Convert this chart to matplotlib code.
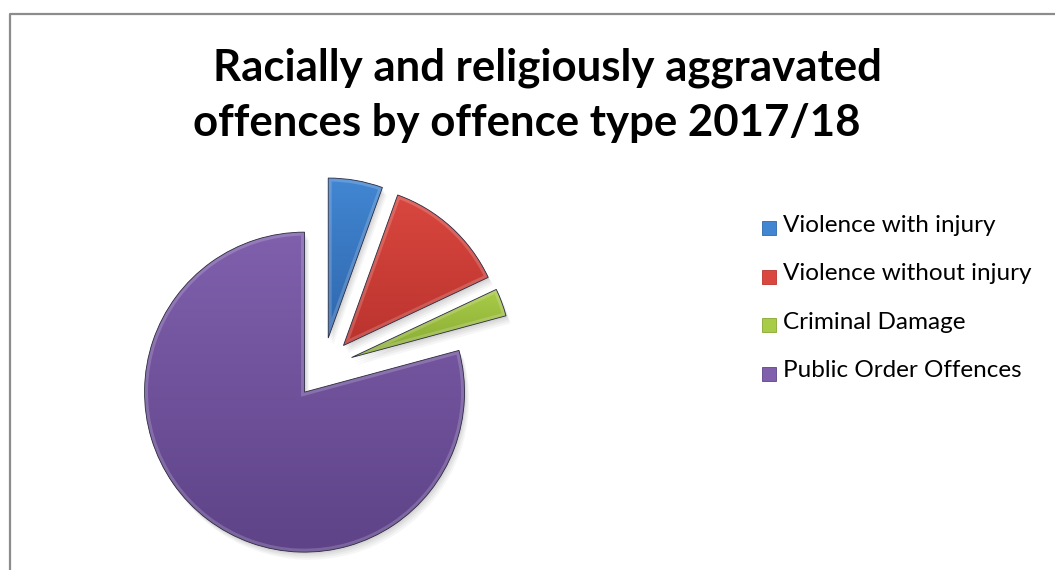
import matplotlib

matplotlib.use("Agg")
import matplotlib.pyplot as plt
import numpy as np
from matplotlib.colors import LinearSegmentedColormap
from matplotlib.legend_handler import HandlerPatch
from matplotlib.lines import Line2D
from matplotlib.patches import Patch, Rectangle, Wedge

# Racially and religiously aggravated offences 2017/18, share of total (%)
categories = [
    "Violence with injury",
    "Violence without injury",
    "Criminal Damage",
    "Public Order Offences",
]
shares = [5.5, 12.5, 2.8, 79.2]
title_lines = ["Racially and religiously aggravated", "offences by offence type 2017/18"]

# light (top) / dark (bottom) shade of each slice
top_colors = ["#4286d2", "#d9473f", "#a9cc48", "#8060ad"]
bottom_colors = ["#2f67ad", "#bb332e", "#86a832", "#5e4388"]

W, H = 1055, 570
FONT = "Lato"

fig = plt.figure(figsize=(W / 100, H / 100), dpi=100)

# square pie axes, 1 data unit = 160 px
cx, cy, half = 323, H - 368, 200
ax = fig.add_axes([(cx - half) / W, (cy - half) / H, 2 * half / W, 2 * half / H])
wedges, _ = ax.pie(
    shares,
    startangle=90,
    counterclock=False,
    explode=[0.19] * len(shares),
    radius=1,
    frame=False,
)

to_data = ax.transData.inverted()
for w, top, bot in zip(wedges, top_colors, bottom_colors):
    w.set_facecolor("none")
    w.set_edgecolor("#2a2a40")
    w.set_linewidth(0.6)
    w.set_zorder(4)
    xc, yc = w.center
    # soft drop shadow
    for k, a in enumerate([0.05, 0.045, 0.04, 0.035]):
        off = 0.012 * (k + 1)
        s = Wedge((xc + off * 0.6, yc - off), w.r, w.theta1, w.theta2,
                  facecolor="black", alpha=a, edgecolor="none", zorder=1)
        ax.add_patch(s)
    # vertical gradient fill clipped to the slice
    verts = to_data.transform(w.get_verts())
    x0, y0 = verts.min(axis=0)
    x1, y1 = verts.max(axis=0)
    cmap = LinearSegmentedColormap.from_list("shade", [bot, top])
    grad = np.linspace(0, 1, 256).reshape(-1, 1)
    im = ax.imshow(grad, cmap=cmap, extent=[x0, x1, y0, y1], origin="lower",
                   aspect="auto", zorder=2, interpolation="bilinear")
    im.set_clip_path(w)
    # bevel rim
    rim = Wedge(w.center, w.r, w.theta1, w.theta2, facecolor="none",
                edgecolor="white", alpha=0.18, linewidth=5, zorder=3)
    ax.add_patch(rim)
    rim.set_clip_path(w)

ax.set_xlim(-1.25, 1.25)
ax.set_ylim(-1.25, 1.25)
ax.set_aspect("equal")
ax.axis("off")

# title, two centred lines
fig.text(547 / W, 1 - 81 / H, title_lines[0], ha="center", va="baseline",
         fontsize=31.5, fontweight="bold", family=FONT)
fig.text(527 / W, 1 - 136 / H, title_lines[1], ha="center", va="baseline",
         fontsize=31.5, fontweight="bold", family=FONT)


def low_square(legend, orig_handle, xdescent, ydescent, width, height, fontsize):
    # square key sitting a little below the text line
    return Rectangle((-xdescent, -ydescent - 0.3 * height), width, width)


handles = [Patch(facecolor=c, edgecolor=b, linewidth=0.6)
           for c, b in zip(top_colors, bottom_colors)]
fs = 17.5
fs_px = fs * 100 / 72
fig.legend(
    handles,
    categories,
    loc="upper left",
    bbox_to_anchor=(762 / W, 1 - 215 / H),
    frameon=False,
    prop={"family": FONT, "size": fs},
    handlelength=14 / fs_px,
    handleheight=14 / fs_px,
    handletextpad=7 / fs_px,
    labelspacing=1.13,
    borderpad=0,
    borderaxespad=0,
    handler_map={Patch: HandlerPatch(patch_func=low_square)},
)

# chart area border (top and left edges)
fig.add_artist(Line2D([9.5 / W, 9.5 / W, 1], [0, 1 - 13.5 / H, 1 - 13.5 / H],
                      color="#8c8c8c", linewidth=1.6, transform=fig.transFigure))

fig.savefig("out.png", dpi=100, facecolor="white")
